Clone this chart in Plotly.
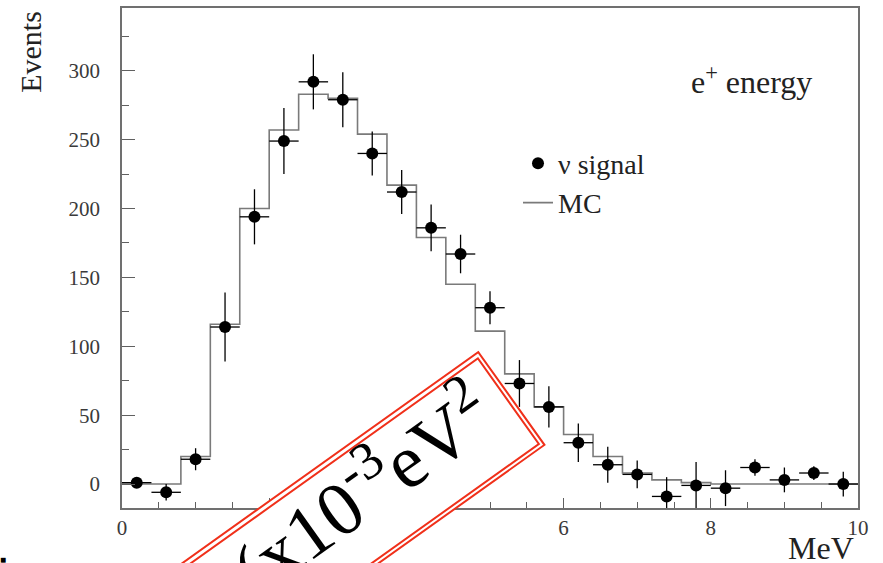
import plotly.graph_objects as go

# ---- data ----
energy = [0.2, 0.6, 1.0, 1.4, 1.8, 2.2, 2.6, 3.0, 3.4, 3.8, 4.2, 4.6, 5.0,
          5.4, 5.8, 6.2, 6.6, 7.0, 7.4, 7.8, 8.2, 8.6, 9.0, 9.4, 9.8]
events = [1, -6, 18, 114, 194, 249, 292, 279, 240, 212, 186, 167, 128,
          73, 56, 30, 14, 7, -9, -1, -3, 12, 3, 8, 0]
events_err = [3, 6, 8, 25, 20, 24, 20, 20, 16, 16, 17, 14, 12,
              17, 15, 14, 13, 10, 14, 17, 13, 6, 9, 5, 9]

mc_edges = [0.0, 0.4, 0.8, 1.2, 1.6, 2.0, 2.4, 2.8, 3.2, 3.6, 4.0, 4.4, 4.8,
            5.2, 5.6, 6.0, 6.4, 6.8, 7.2, 7.6, 8.0, 8.4, 8.8, 9.2, 9.6, 10.0]
mc_counts = [0, 0, 20, 116, 200, 257, 283, 280, 254, 217, 179, 145, 111,
             80, 56, 36, 20, 8, 3, 1, 0, 0, 0, 0, 0]

x_ticks = [0, 2, 4, 6, 8, 10]
y_ticks = [0, 50, 100, 150, 200, 250, 300]

SERIF = "Liberation Serif, Times New Roman, serif"

fig = go.Figure()

fig.add_trace(go.Scatter(
    x=mc_edges, y=mc_counts + [mc_counts[-1]],
    mode="lines", line=dict(shape="hv", color="#7a7a7a", width=1.6),
    name="MC", legendrank=2,
))

fig.add_trace(go.Scatter(
    x=energy, y=events, mode="markers",
    marker=dict(color="black", size=12),
    error_y=dict(type="data", array=events_err, color="black", thickness=1.3, width=0),
    error_x=dict(type="constant", value=0.2, color="black", thickness=1.3, width=0),
    name="ν signal", legendrank=1,
))

axis_common = dict(
    showline=True, linecolor="#707070", linewidth=1.5, mirror=True,
    ticks="inside", tickcolor="#606060", tickwidth=1.3,
    showgrid=False, zeroline=False,
    tickfont=dict(family=SERIF, size=21, color="#3a3a3a"),
)

fig.update_xaxes(range=[0, 10], tickvals=x_ticks, ticklen=10,
                 minor=dict(dtick=0.5, tick0=0, ticks="inside", ticklen=6,
                            tickcolor="#606060", tickwidth=1.2),
                 ticklabelstandoff=0, **axis_common)
fig.update_yaxes(range=[-17.4, 345.6], tickvals=y_ticks, ticklen=13,
                 minor=dict(dtick=25, tick0=0, ticks="inside", ticklen=7,
                            tickcolor="#606060", tickwidth=1.2),
                 ticklabelstandoff=16, **axis_common)

L, T, R, B = 122, 6, 25, 55
W, H = 883, 563
pw, ph = W - L - R, H - T - B


def px(xp):
    return (xp - L) / pw


def py(yp):
    return (H - B - yp) / ph


ann = []
ann.append(dict(text="Events", x=px(31), y=py(50), textangle=-90,
                font=dict(family=SERIF, size=30, color="#222")))
ann.append(dict(text="MeV", x=px(821), y=py(548),
                font=dict(family=SERIF, size=32, color="#222")))
ann.append(dict(text="e<sup>+</sup> energy", x=px(751), y=py(78),
                font=dict(family=SERIF, size=32, color="#222")))
ann.append(dict(text="■", x=px(3), y=py(559), font=dict(size=10, color="black")))

# rotated double-bordered red box
angle = -35.5
box_len, box_short = 480, 116
cx, cy = 317.3, 537.6
ann.append(dict(text="&nbsp;", x=px(cx), y=py(cy), textangle=angle,
                width=box_len - 4, height=box_short - 4, borderpad=0,
                bgcolor="white", bordercolor="#f0301a", borderwidth=2))
ann.append(dict(text="&nbsp;", x=px(cx), y=py(cy), textangle=angle,
                width=box_len - 13, height=box_short - 13, borderpad=0,
                bgcolor="white", bordercolor="#f0301a", borderwidth=2))
ann.append(dict(text="(x10<sup>-3</sup>eV<sup>2</sup>", x=px(360), y=py(488),
                textangle=angle, font=dict(family=SERIF, size=76, color="black")))

for a in ann:
    a.update(xref="paper", yref="paper", showarrow=False,
             xanchor="center", yanchor="middle")

fig.update_layout(
    width=W, height=H,
    margin=dict(l=L, r=R, t=T, b=B),
    paper_bgcolor="white", plot_bgcolor="white",
    annotations=ann,
    showlegend=True,
    legend=dict(x=px(518), y=py(137), xanchor="left", yanchor="top",
                font=dict(family=SERIF, size=28, color="#222"),
                bgcolor="rgba(0,0,0,0)", tracegroupgap=0),
)

fig.write_html("out.html")
